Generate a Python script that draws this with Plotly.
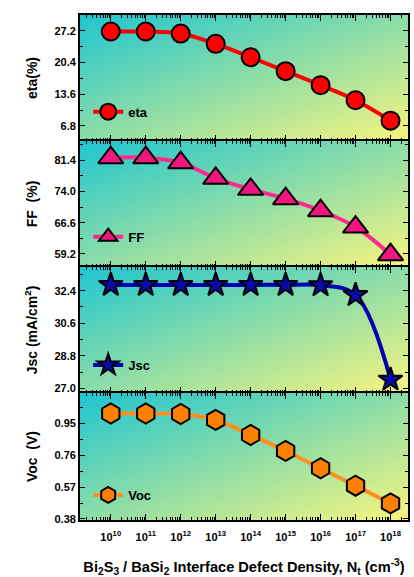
import base64, struct, zlib, math
import plotly.graph_objects as go

# ---------------- data ----------------
Nt = [1e10, 1e11, 1e12, 1e13, 1e14, 1e15, 1e16, 1e17, 1e18]
Nt_labels = ["10<sup>10</sup>", "10<sup>11</sup>", "10<sup>12</sup>", "10<sup>13</sup>", "10<sup>14</sup>",
             "10<sup>15</sup>", "10<sup>16</sup>", "10<sup>17</sup>", "10<sup>18</sup>"]
eta = [27.05, 27.05, 26.62, 24.41, 21.55, 18.55, 15.55, 12.32, 7.94]
FF = [81.94, 81.94, 80.76, 77.08, 74.48, 72.27, 69.43, 65.57, 59.03]
Jsc = [32.72, 32.72, 32.72, 32.72, 32.72, 32.72, 32.70, 32.16, 27.48]
Voc = [1.008, 1.008, 1.005, 0.970, 0.880, 0.785, 0.682, 0.578, 0.473]

eta_ticks = [6.8, 13.6, 20.4, 27.2]
FF_ticks = [59.2, 66.6, 74.0, 81.4]
Jsc_ticks = [27.0, 28.8, 30.6, 32.4]
Voc_ticks = [0.38, 0.57, 0.76, 0.95]

# ---------------- gradient background image ----------------
def gradient_png(w, h, c0, c1):
    raw = bytearray()
    for j in range(h):
        raw.append(0)
        for i in range(w):
            t = (i / (w - 1) + j / (h - 1)) / 2.0
            for k in range(3):
                raw.append(int(round(c0[k] + (c1[k] - c0[k]) * t)))
    def chunk(tag, data):
        c = tag + data
        return struct.pack(">I", len(data)) + c + struct.pack(">I", zlib.crc32(c) & 0xffffffff)
    png = b"\x89PNG\r\n\x1a\n"
    png += chunk(b"IHDR", struct.pack(">IIBBBBB", w, h, 8, 2, 0, 0, 0))
    png += chunk(b"IDAT", zlib.compress(bytes(raw), 9))
    png += chunk(b"IEND", b"")
    return "data:image/png;base64," + base64.b64encode(png).decode()

bg = gradient_png(64, 32, (34, 198, 208), (246, 244, 128))

FONT = "Liberation Sans, Arial, sans-serif"

fig = go.Figure()

panels = [
    dict(y=eta, name="eta", color="#FF0000", lcolor="#FF0000", symbol="circle", size=18,
         title="eta(%)", ticks=eta_ticks, rng=[3.58, 30.6], fmt=".1f", minor=3.4, legy=0.8085),
    dict(y=FF, name="FF", color="#F0157F", lcolor="#FF2A90", symbol="triangle-up", size=22,
         title="FF\u00a0\u00a0(%)", ticks=FF_ticks, rng=[56.13, 85.9], fmt=".1f", minor=3.7, legy=0.561),
    dict(y=Jsc, name="Jsc", color="#0A0AAA", lcolor="#0000B0", symbol="star", size=18,
         title="Jsc (mA/cm<sup>2</sup>)", ticks=Jsc_ticks, rng=[26.74, 33.71], fmt=".1f", minor=0.9, legy=0.307),
    dict(y=Voc, name="Voc", color="#FF8000", lcolor="#FF9020", symbol="hexagon", size=20,
         title="Voc\u00a0\u00a0(V)", ticks=Voc_ticks, rng=[0.374, 1.130], fmt=".2f", minor=0.095, legy=0.0495),
]

domains = [[0.7505, 1.0], [0.501, 0.7505], [0.2515, 0.501], [0.0, 0.2515]]

minor_x = [m * 10 ** k for k in range(9, 19) for m in range(2, 10) if 9.12 <= k + math.log10(m) <= 18.5]

images = []
for i, p in enumerate(panels):
    idx = "" if i == 0 else str(i + 1)
    leg = "legend" if i == 0 else "legend" + str(i + 1)
    fig.add_trace(go.Scatter(
        x=Nt, y=p["y"], name=p["name"], mode="lines+markers",
        line=dict(color=p["lcolor"], width=4, shape="spline", smoothing=1.0),
        marker=dict(symbol=p["symbol"], size=p["size"], color=p["color"],
                    line=dict(color="black", width=2)),
        xaxis="x" + idx, yaxis="y" + idx, legend=leg, showlegend=True,
    ))
    last = (i == 3)
    fig.update_layout(**{
        "xaxis" + idx: dict(
            type="log", range=[9.12, 18.5], domain=[0, 1], anchor="y" + idx,
            tickmode="array", tickvals=Nt, ticktext=Nt_labels, showticklabels=last,
            ticks="inside", ticklen=6, tickwidth=1.2, tickcolor="black",
            ticklabelstandoff=6,
            minor=dict(tickmode="array", tickvals=minor_x, ticks="inside", ticklen=3,
                       tickwidth=1, tickcolor="black", showgrid=False),
            showline=True, linecolor="black", linewidth=1.8, mirror="ticks",
            showgrid=False, zeroline=False,
            tickfont=dict(family=FONT, size=11, color="black", weight="bold"),
            title=dict(text="Bi<sub>2</sub>S<sub>3</sub> / BaSi<sub>2</sub> Interface Defect Density, N<sub>t</sub> (cm<sup>-3</sup>)" if last else "",
                       font=dict(family=FONT, size=14.6, color="black", weight="bold"), standoff=20),
        ),
        "yaxis" + idx: dict(
            domain=domains[i], anchor="x" + idx, range=p["rng"],
            tickmode="array", tickvals=p["ticks"], tickformat=p["fmt"],
            ticks="inside", ticklen=5, tickwidth=1.2, tickcolor="black",
            minor=dict(tick0=p["ticks"][0], dtick=p["minor"], ticks="inside", ticklen=3,
                       tickwidth=1, tickcolor="black", showgrid=False),
            showline=True, linecolor="black", linewidth=1.8, mirror="ticks",
            showgrid=False, zeroline=False,
            tickfont=dict(family=FONT, size=11, color="black", weight="bold"),
            title=dict(text=p["title"], font=dict(family=FONT, size=14, color="black", weight="bold"),
                       standoff=14),
        ),
        leg: dict(x=0.025, xanchor="left", y=p["legy"], yanchor="middle",
                  bgcolor="rgba(0,0,0,0)", borderwidth=0,
                  font=dict(family=FONT, size=13, color="black", weight="bold"),
                  itemwidth=30),
    })
    images.append(dict(source=bg, xref="x" + idx + " domain", yref="y" + idx + " domain",
                       x=0, y=1, sizex=1, sizey=1, xanchor="left", yanchor="top",
                       sizing="stretch", layer="below"))

fig.update_layout(
    images=images,
    width=414, height=577,
    margin=dict(l=80, r=4, t=15, b=57),
    paper_bgcolor="white", plot_bgcolor="rgba(0,0,0,0)",
    font=dict(family=FONT, color="black"),
)

fig.write_html("out.html", config={"displayModeBar": False})
